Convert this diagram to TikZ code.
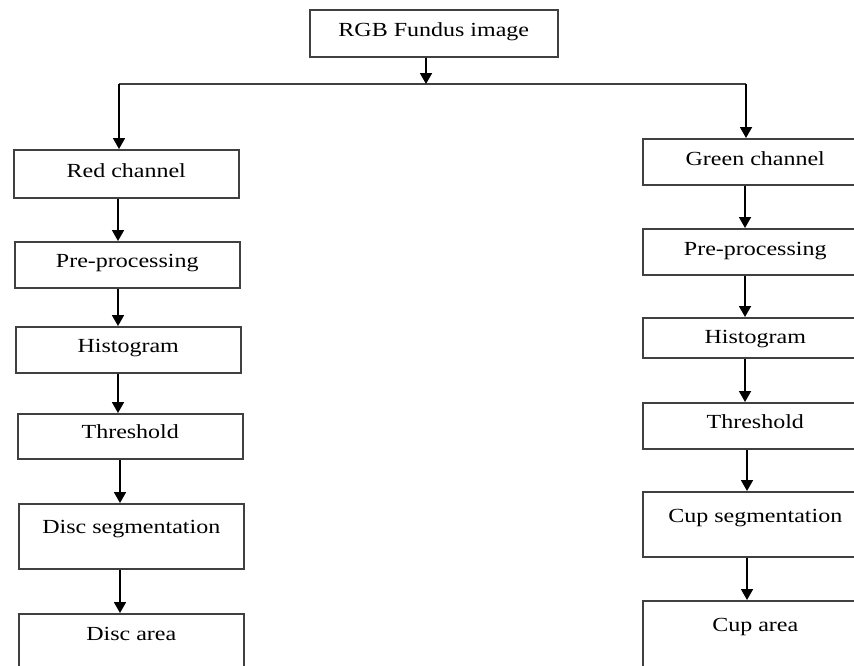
\documentclass[tikz,border=0pt]{standalone}
\usepackage{fontspec}
\setmainfont{Liberation Serif}[FakeStretch=1.2]
\usetikzlibrary{arrows.meta}
\tikzset{
  blk/.style={draw=black!75, line width=1.5pt, rectangle, anchor=north west,
    inner xsep=0pt, inner ysep=0pt, minimum width=225pt},
  arr/.style={line width=1.8pt, -{Triangle[width=12pt,length=11pt]}},
  wire/.style={line width=1.5pt, black!75}
}

\begin{document}
\begin{tikzpicture}[x=1pt, y=-1pt, font=\fontsize{20}{24}\selectfont]
			%%%%% START %%%%%
			\useasboundingbox (0,0) rectangle (854,665);
			\clip (0,0) rectangle (854,665);
			
			\node[blk, minimum width=248pt, text height=27pt, text depth=20pt] (rgb) at (309,9) {RGB Fundus image};
			
			% red side
			\node[blk, text height=28pt, text depth=20pt] (red) at (13,149) {Red channel};
			\node[blk, text height=26pt, text depth=20pt] (preL) at (14,241) {Pre-processing};
			\node[blk, text height=26pt, text depth=20pt] (histL) at (15,326) {Histogram};
			\node[blk, text height=25pt, text depth=20pt] (thrL) at (17,413) {Threshold};
			\node[blk, text height=30pt, text depth=35pt] (disc) at (18,503) {Disc segmentation};
			\node[blk, text height=27pt, text depth=40pt] (discA) at (18,613) {Disc area};
			
			% green side
			\node[blk, text height=27pt, text depth=19pt] (green) at (642,138) {Green channel};
			\node[blk, text height=27pt, text depth=19pt] (preR) at (642,228) {Pre-processing};
			\node[blk, text height=26pt, text depth=14pt] (histR) at (642,317) {Histogram};
			\node[blk, text height=26pt, text depth=20pt] (thrR) at (642,402) {Threshold};
			\node[blk, text height=31pt, text depth=34pt] (cup) at (642,491) {Cup segmentation};
			\node[blk, text height=31pt, text depth=40pt] (cupA) at (642,600) {Cup area};
			
			\coordinate (tx) at (426,84);
			\coordinate (bl) at (119,84);
			\coordinate (br) at (746,84);
			\coordinate (lx) at (118,0);
			\coordinate (lx2) at (120,0);
			\coordinate (rx) at (745,0);
			\coordinate (rx2) at (747,0);
			
			\draw[wire] (bl) -- (br);
			\draw[arr] (rgb.south -| tx) -- (tx);
			\draw[arr] (bl) -- (red.north -| bl);
			\draw[arr] (br) -- (green.north -| br);
			
			\draw[arr] (red.south -| lx) -- (preL.north -| lx);
			\draw[arr] (preL.south -| lx) -- (histL.north -| lx);
			\draw[arr] (histL.south -| lx) -- (thrL.north -| lx);
			\draw[arr] (thrL.south -| lx2) -- (disc.north -| lx2);
			\draw[arr] (disc.south -| lx2) -- (discA.north -| lx2);
			
			\draw[arr] (green.south -| rx) -- (preR.north -| rx);
			\draw[arr] (preR.south -| rx) -- (histR.north -| rx);
			\draw[arr] (histR.south -| rx) -- (thrR.north -| rx);
			\draw[arr] (thrR.south -| rx2) -- (cup.north -| rx2);
			\draw[arr] (cup.south -| rx2) -- (cupA.north -| rx2);
			%%%%% END %%%%%
\end{tikzpicture}
\end{document}
